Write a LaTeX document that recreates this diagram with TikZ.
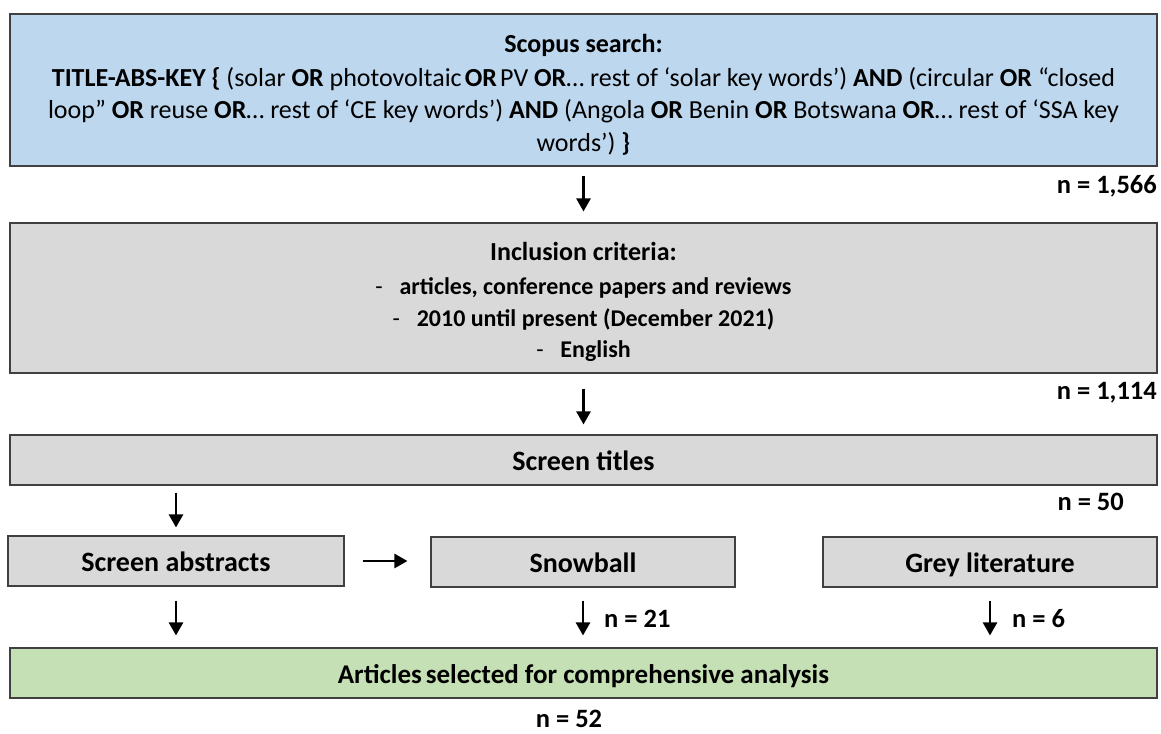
\documentclass[tikz,border=0pt]{standalone}
\usepackage{fontspec}
\setmainfont{Carlito}
\usetikzlibrary{arrows.meta}
\definecolor{bluefill}{HTML}{BDD7EE}
\definecolor{greyfill}{HTML}{D9D9D9}
\definecolor{greenfill}{HTML}{C5E0B4}
\definecolor{edge}{HTML}{404040}
\tikzset{
  box/.style={draw=edge, line width=1.1pt, inner sep=0pt, align=center, font=\fontsize{26}{32.5}\selectfont},
  label/.style={box, minimum height=50pt, text height=21pt, text depth=0pt, font=\fontsize{28}{30}\selectfont\bfseries},
  arr/.style={line width=2.5pt, -{Triangle[width=14pt,length=13pt]}},
  count/.style={font=\fontsize{26.5}{28}\selectfont\bfseries, inner sep=0pt}
}
\begin{document}
\begin{tikzpicture}[x=1pt,y=-1pt]
\useasboundingbox (0,0) rectangle (1161,733);
\node[box, fill=bluefill, minimum width=1147pt, minimum height=152pt] (b1) at (583.5,90)
 {\rule{0pt}{28pt}{\bfseries Scopus search:}\\[1pt]
  {\bfseries TITLE-ABS-KEY \{} (solar {\bfseries OR} photovoltaic\hspace{0.12em}{\bfseries OR}\hspace{0.12em}PV {\bfseries OR}\dots{} rest of ‘solar key words’) {\bfseries AND} (circular {\bfseries OR} “closed\\
  loop” {\bfseries OR} reuse {\bfseries OR}\dots{} rest of ‘CE key words’) {\bfseries AND} (Angola {\bfseries OR} Benin {\bfseries OR} Botswana {\bfseries OR}\dots{} rest of ‘SSA key\\
  words’) {\bfseries \}}};
\node[box, fill=greyfill, minimum width=1147pt, minimum height=150pt] (b2) at (583.5,298)
 {{\fontsize{26}{32}\selectfont\rule{0pt}{26pt}\bfseries Inclusion criteria:}\\[1pt]
  {\fontsize{24}{32}\selectfont -\hspace{0.7em}{\bfseries articles, conference papers and reviews}}\\
  {\fontsize{24}{32}\selectfont -\hspace{0.7em}{\bfseries 2010 until present (December 2021)}}\\[-2pt]
  {\fontsize{24}{30}\selectfont -\hspace{0.7em}{\bfseries English}}};
\node[label, fill=greyfill, minimum width=1147pt] (b3) at (583.5,460) {Screen titles};
\node[label, fill=greyfill, minimum width=336pt] (sa) at (176,561) {Screen abstracts};
\node[label, fill=greyfill, minimum width=304pt] (sb) at (583,562) {Snowball};
\node[label, fill=greyfill, minimum width=334pt] (gl) at (990,562) {Grey literature};
\node[label, fill=greenfill, minimum width=1147pt, font=\fontsize{27}{30}\selectfont\bfseries] (fin) at (583.5,673) {Articles\hspace{-0.08em} selected for comprehensive analysis};

\node[count, anchor=east] (n1) at (1157,186) {n = 1,566};
\node[count, anchor=east] (n2) at (1157,393) {n = 1,114};
\node[count, anchor=east] (n3) at (1124,502) {n = 50};
\node[count, anchor=west] (n4) at (604,619) {n = 21};
\node[count, anchor=west] (n5) at (1012,619) {n = 6};
\node[count] (n6) at (569,719) {n = 52};

\draw[arr, shorten <=9pt, shorten >=11pt] (b1.south) -- (b2.north);
\draw[arr, shorten <=15pt, shorten >=10pt] (b2.south) -- (b3.north);
\draw[arr, shorten <=7pt, shorten >=8pt] (b3.south -| sa.north) -- (sa.north);
\draw[arr, shorten <=18pt, shorten >=23pt] (sa.east) -- (sa.east -| sb.west);
\draw[arr, shorten <=14pt, shorten >=12pt] (sa.south) -- (sa.south |- fin.north);
\draw[arr, shorten <=13pt, shorten >=12pt] (sb.south) -- (sb.south |- fin.north);
\draw[arr, shorten <=13pt, shorten >=12pt] (gl.south) -- (gl.south |- fin.north);
\end{tikzpicture}
\end{document}
